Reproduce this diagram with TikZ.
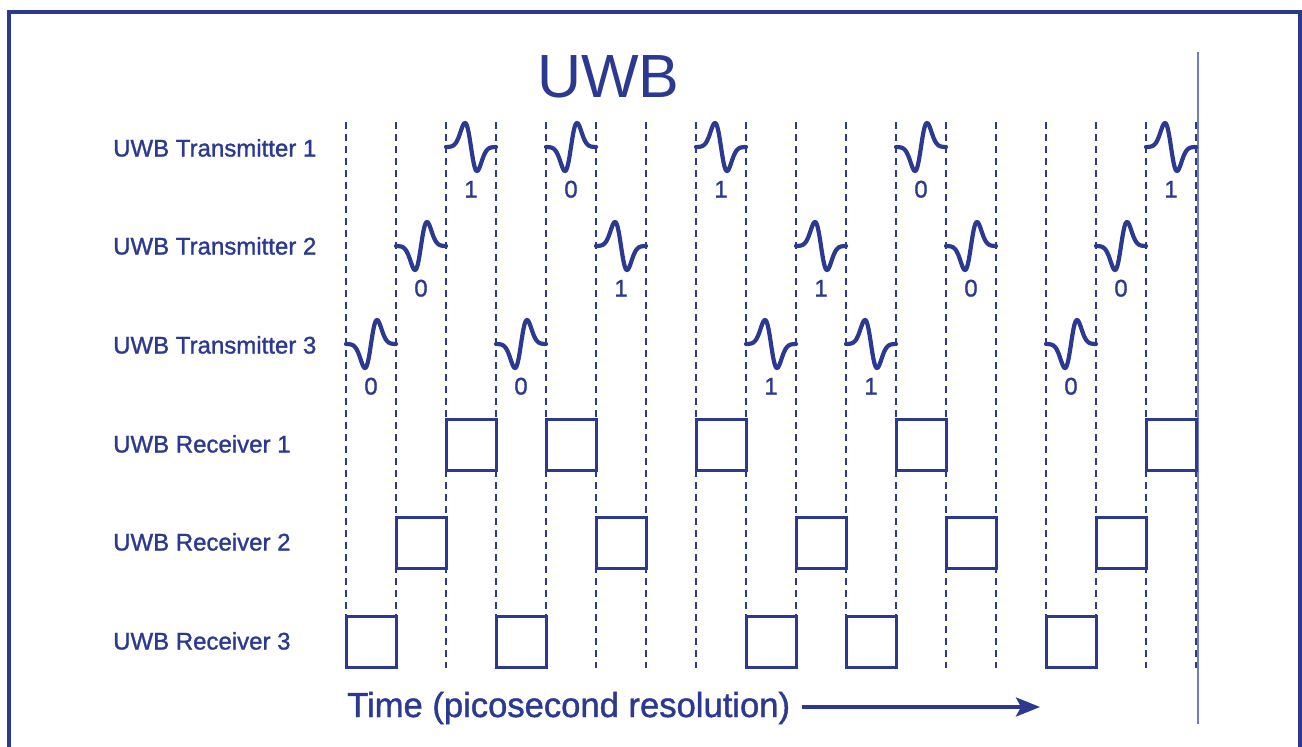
\documentclass[tikz,border=0pt]{standalone}
\usepackage{fontspec}
\setmainfont{Liberation Sans}
\newfontfamily\heavysans{Liberation Sans}[FakeBold=1.2]
\usetikzlibrary{arrows.meta}
\definecolor{uwb}{RGB}{43,57,145}
\definecolor{uwblight}{RGB}{112,125,190}
\begin{document}
\begin{tikzpicture}[x=1pt,y=-1pt,
  every node/.style={text=uwb, inner sep=0pt},
  rowlabel/.style={anchor=base west, font=\heavysans\fontsize{24}{28}\selectfont},
  bitlabel/.style={anchor=base, font=\heavysans\fontsize{24}{28}\selectfont},
  slotline/.style={draw=uwb, line width=2pt, dash pattern=on 7pt off 5pt},
  pulse/.style={draw=uwb, line width=4.2pt, line cap=round, line join=round},
  rxbox/.style={draw=uwb, line width=3pt},
  frameline/.style={draw=uwb, line width=4.5pt},
  timearrow/.style={draw=uwb, line width=3.5pt, -{Stealth[length=24pt,width=19pt,inset=5pt]}}]
\useasboundingbox (0,0) rectangle (1302,747);
\clip (0,0) rectangle (1302,747);
\fill[white] (0,0) rectangle (1302,747);
% frame
\draw[frameline] (9,800) -- (9,12) -- (1300,12) -- (1300,800);
% right solid line
\draw[uwblight, line width=2pt] (1197.5,52) -- (1197.5,724);
% slot lines
\foreach \i in {0,...,17}
  \draw[slotline] (346+50*\i,122) -- (346+50*\i,668);
% title
\node[anchor=base, font=\fontsize{61}{70}\selectfont] (title) at (608.5,97) {UWB};
% row labels
\node[rowlabel] (t1) at (113,156.5) {UWB Transmitter 1};
\node[rowlabel] (t2) at (113,254.5) {UWB Transmitter 2};
\node[rowlabel] (t3) at (113,353.5) {UWB Transmitter 3};
\node[rowlabel] (r1) at (113,452.5) {UWB Receiver 1};
\node[rowlabel] (r2) at (113,550.5) {UWB Receiver 2};
\node[rowlabel] (r3) at (113,649.5) {UWB Receiver 3};
% pulses and receiver windows
\foreach \r/\yy/\by in {1/147/419, 2/246/517, 3/344/616}{
  \ifnum\r=1 \def\plist{2/1,4/0,7/1,11/0,16/1}\fi
  \ifnum\r=2 \def\plist{1/0,5/1,9/1,12/0,15/0}\fi
  \ifnum\r=3 \def\plist{0/0,3/0,8/1,10/1,14/0}\fi
  \foreach \k/\b in \plist{
    \draw[pulse] plot[domain=-25:25, samples=81, smooth]
      ({371+50*\k+\x}, {\yy+24*(2*\b-1)*(\x/6)*exp(0.5-\x*\x/72)});
    \node[bitlabel] (bit-\r-\k) at (371+50*\k, \yy+50.5) {\b};
    \draw[rxbox] (346+50*\k,\by) rectangle ++(50,51);
  }
}
% time axis
\node[anchor=base west, font=\heavysans\fontsize{34.6}{40}\selectfont] (time) at (347,717) {Time (picosecond resolution)};
\coordinate (tend) at (1040,707);
\draw[timearrow, shorten <=12pt] (time.east |- tend) -- (tend);
\end{tikzpicture}
\end{document}
